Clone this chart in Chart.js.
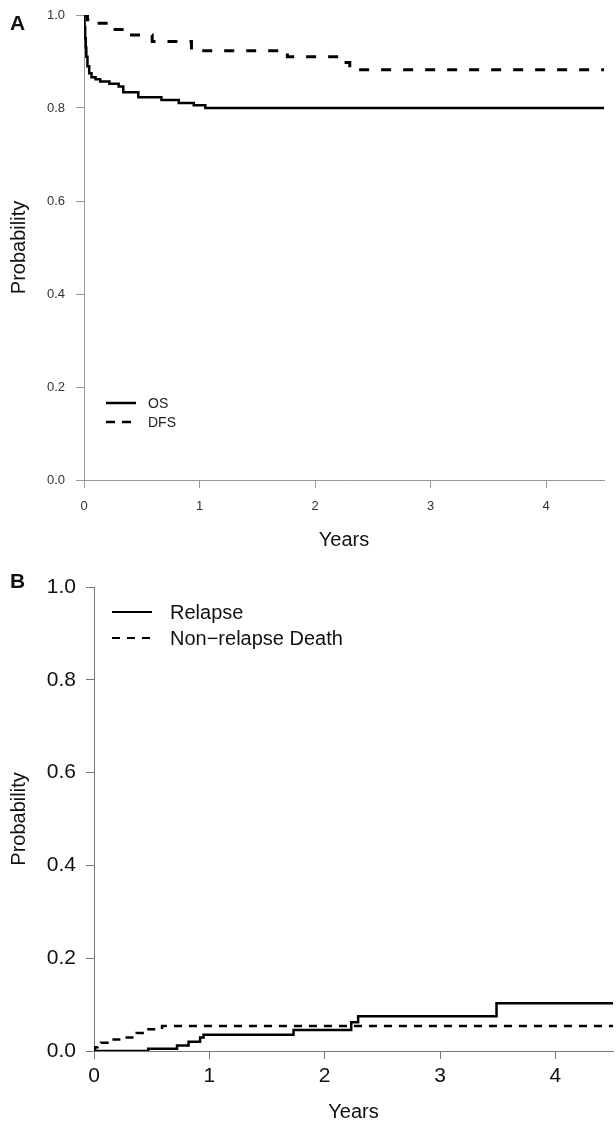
<!DOCTYPE html>
<html>
<head>
<meta charset="utf-8">
<script src="https://cdn.jsdelivr.net/npm/chart.js@4.4.1/dist/chart.umd.min.js"></script>
<style>
  body { margin: 0; background: #fff; width: 616px; height: 1124px; position: relative; overflow: hidden; font-family: "Liberation Sans", Arial, sans-serif; }
  .panel { position: absolute; left: 0; width: 616px; }
  #panelA { top: 0; height: 560px; }
  #panelB { top: 560px; height: 564px; }
  .tag { position: absolute; left: 10px; font-weight: bold; font-size: 21px; line-height: 21px; color: #111; }
</style>
</head>
<body>
<div class="panel" id="panelA"><canvas id="chartA" width="616" height="560"></canvas></div>
<div class="panel" id="panelB"><canvas id="chartB" width="616" height="564"></canvas></div>
<div class="tag" style="top: 12px;">A</div>
<div class="tag" style="top: 570px;">B</div>
<script>
// Values (years / probability)
const xTicks = [0, 1, 2, 3, 4];
const yTicks = [0, 0.2, 0.4, 0.6, 0.8, 1.0];

// Panel A: overall and disease-free survival
const osTime = [0, 0.005, 0.01, 0.015, 0.02, 0.03, 0.045, 0.065, 0.1, 0.14, 0.22, 0.30, 0.34, 0.47, 0.67, 0.82, 0.95, 1.05, 4.5];
const osProb = [1.0, 0.975, 0.95, 0.93, 0.91, 0.89, 0.875, 0.866, 0.862, 0.857, 0.852, 0.846, 0.834, 0.823, 0.817, 0.811, 0.806, 0.800, 0.800];
const dfsTime = [0, 0.03, 0.1, 0.22, 0.38, 0.59, 0.93, 1.76, 2.25, 2.30, 4.5];
const dfsProb = [1.0, 0.99, 0.982, 0.969, 0.957, 0.943, 0.923, 0.910, 0.898, 0.882, 0.882];

// Panel B: cumulative incidence
const relapseTime = [0, 0.47, 0.72, 0.82, 0.92, 0.95, 1.73, 2.23, 2.29, 3.49, 4.5];
const relapseProb = [0, 0.005, 0.012, 0.02, 0.029, 0.035, 0.045, 0.062, 0.075, 0.103, 0.103];
const nrmTime = [0, 0.01, 0.03, 0.06, 0.15, 0.25, 0.37, 0.45, 0.59, 4.5];
const nrmProb = [0, 0.008, 0.014, 0.018, 0.025, 0.029, 0.039, 0.047, 0.054, 0.054];

const fontFamily = '"Liberation Sans", Arial, sans-serif';

function points(xs, ys) {
    return xs.map((x, i) => ({ x: x, y: ys[i] }));
}

function curve(label, xs, ys, width, dash) {
    return {
        label,
        data: points(xs, ys),
        borderColor: "#000",
        borderWidth: width,
        borderDash: dash,
        borderCapStyle: "butt",
        stepped: "before",
        pointRadius: 0,
        fill: false,
        tension: 0,
    };
}

// Draws the small key inside the plot area, like the original figure
const keyPlugin = {
    id: "key",
    afterDatasetsDraw(chart, args, opts) {
        const ctx = chart.ctx;
        ctx.save();
        chart.data.datasets.forEach((ds, i) => {
            const y = opts.y + i * opts.rowGap;
            ctx.beginPath();
            ctx.setLineDash(opts.dashes[i]);
            ctx.lineWidth = opts.lineWidth;
            ctx.strokeStyle = "#000";
            ctx.moveTo(opts.x, y);
            ctx.lineTo(opts.x + opts.length, y);
            ctx.stroke();
            ctx.setLineDash([]);
            ctx.fillStyle = opts.color;
            ctx.font = opts.font;
            ctx.textBaseline = "middle";
            ctx.textAlign = "left";
            ctx.fillText(ds.label, opts.textX, y + 1);
        });
        ctx.restore();
    },
};

function axes(p) {
    const gridCfg = {
        drawOnChartArea: false,
        drawTicks: true,
        tickLength: p.tickLength,
        color: p.axisColor,
        lineWidth: 1,
    };
    return {
        x: {
            type: "linear",
            min: 0,
            max: 4.5,
            afterBuildTicks: (s) => { s.ticks = xTicks.map((v) => ({ value: v })); },
            afterFit: (s) => {
                s.height = p.xHeight;
                s.paddingLeft = 0;
                s.paddingRight = 0;
            },
            grid: gridCfg,
            border: { display: true, color: p.axisColor, width: 1 },
            ticks: {
                color: p.tickColor,
                font: { family: fontFamily, size: p.tickSize },
                padding: p.xTickPad,
                maxRotation: 0,
                autoSkip: false,
            },
            title: {
                display: true,
                text: "Years",
                color: "#111",
                font: { family: fontFamily, size: p.titleSize },
                padding: { top: 0, bottom: p.xTitlePad },
            },
        },
        y: {
            type: "linear",
            min: 0,
            max: 1,
            afterBuildTicks: (s) => { s.ticks = yTicks.map((v) => ({ value: v })); },
            afterFit: (s) => {
                s.width = p.yWidth;
                s.paddingTop = 0;
                s.paddingBottom = 0;
            },
            grid: gridCfg,
            border: { display: true, color: p.axisColor, width: 1 },
            ticks: {
                color: p.tickColor,
                font: { family: fontFamily, size: p.tickSize },
                padding: p.yTickPad,
                callback: (v) => v.toFixed(1),
            },
            title: {
                display: true,
                text: "Probability",
                color: "#111",
                font: { family: fontFamily, size: p.titleSize },
                padding: { top: 7, bottom: 0 },
            },
        },
    };
}

function makeChart(id, datasets, p, key) {
    return new Chart(document.getElementById(id).getContext("2d"), {
        type: "line",
        data: { datasets },
        options: {
            responsive: false,
            devicePixelRatio: 1,
            animation: false,
            parsing: false,
            layout: { padding: p.padding },
            scales: axes(p),
            plugins: {
                legend: { display: false },
                tooltip: { enabled: false },
                key: key,
            },
        },
        plugins: [keyPlugin],
    });
}

makeChart(
    "chartA",
    [
        curve("OS", osTime, osProb, 2.5, []),
        curve("DFS", dfsTime, dfsProb, 3, [10, 12]),
    ],
    {
        padding: { top: 15, right: 12, left: 0, bottom: 0 },
        yWidth: 84, xHeight: 80, tickLength: 8,
        axisColor: "#999", tickColor: "#333",
        tickSize: 13, titleSize: 20,
        xTickPad: 11, yTickPad: 11, xTitlePad: 8,
    },
    {
        x: 106, y: 403, rowGap: 19, length: 30, textX: 148,
        lineWidth: 2.5, dashes: [[], [9, 7]],
        font: "14px " + fontFamily, color: "#222",
    }
);

makeChart(
    "chartB",
    [
        curve("Relapse", relapseTime, relapseProb, 2.5, []),
        curve("Non\u2212relapse Death", nrmTime, nrmProb, 2.5, [8, 7]),
    ],
    {
        padding: { top: 27, right: 3, left: 0, bottom: 0 },
        yWidth: 94, xHeight: 73, tickLength: 8,
        axisColor: "#777", tickColor: "#111",
        tickSize: 21, titleSize: 20,
        xTickPad: 5, yTickPad: 10, xTitlePad: 0,
    },
    {
        x: 112, y: 52, rowGap: 26, length: 40, textX: 170,
        lineWidth: 2, dashes: [[], [8, 7]],
        font: "20px " + fontFamily, color: "#111",
    }
);
</script>
</body>
</html>
